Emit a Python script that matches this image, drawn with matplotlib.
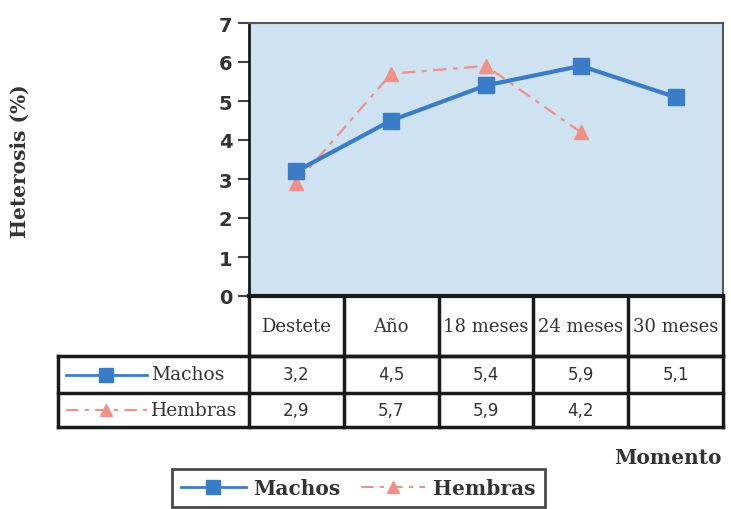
import matplotlib.pyplot as plt
from matplotlib.lines import Line2D
from matplotlib.transforms import blended_transform_factory

# heterosis por momento de evaluación
momentos = ["Destete", "Año", "18 meses", "24 meses", "30 meses"]
machos = [3.2, 4.5, 5.4, 5.9, 5.1]
hembras = [2.9, 5.7, 5.9, 4.2]
machos_txt = ["3,2", "4,5", "5,4", "5,9", "5,1"]
hembras_txt = ["2,9", "5,7", "5,9", "4,2", ""]

azul = "#3a7cc8"
rosa = "#f09088"
borde = "#1a1a1a"
serif = "DejaVu Serif"

fig = plt.figure(figsize=(7.31, 5.10), dpi=100)
ax = fig.add_axes([249 / 731, 1 - 297 / 510, 474 / 731, 273 / 510])
ax.set_facecolor("#cfe2f1")

x = list(range(len(momentos)))
ax.plot(x[:len(hembras)], hembras, color=rosa, lw=1.6, ls=(0, (6, 3, 2, 3)),
        marker="^", ms=10, mec=rosa, mfc=rosa, zorder=2)
ax.plot(x, machos, color=azul, lw=3, marker="s", ms=11, mec=azul, mfc=azul, zorder=3)

ax.set_xlim(-0.5, 4.5)
ax.set_ylim(0, 7)
ax.set_yticks(range(8))
ax.set_xticks([])
ax.tick_params(axis="y", length=8, width=1.5, color="#444", direction="out", pad=4)
for t in ax.get_yticklabels():
    t.set_fontsize(14)
    t.set_fontweight("bold")
    t.set_color("#333333")
for s in ["top", "right"]:
    ax.spines[s].set_color("#555555")
    ax.spines[s].set_linewidth(1.5)
ax.spines["left"].set_color(borde)
ax.spines["left"].set_linewidth(2)
ax.spines["bottom"].set_color(borde)
ax.spines["bottom"].set_linewidth(3)

fig.text(20 / 731, 1 - 161 / 510, "Heterosis (%)", rotation=90, ha="center", va="center",
         family=serif, fontweight="bold", fontsize=14.5, color="#333333")

# tabla de datos bajo el eje x
tr = blended_transform_factory(ax.transData, fig.transFigure)
y_top = 1 - 297 / 510
y_h = 1 - 357 / 510
y_m = 1 - 394 / 510
y_b = 1 - 428 / 510
x_left = -2.52


def linea(xs, ys, lw=2.5):
    fig.add_artist(Line2D(xs, ys, transform=tr, color=borde, lw=lw, clip_on=False))


linea([-0.5, 4.5], [y_h, y_h])
linea([x_left, 4.5], [y_h, y_h])
linea([x_left, 4.5], [y_m, y_m])
linea([x_left, 4.5], [y_b, y_b])
linea([x_left, x_left], [y_h, y_b])
for b in [-0.5, 0.5, 1.5, 2.5, 3.5, 4.5]:
    linea([b, b], [y_top, y_b])

for i, m in enumerate(momentos):
    fig.text(i, (y_top + y_h) / 2, m, transform=tr, ha="center", va="center",
             family=serif, fontsize=13, color="#333333")
    fig.text(i, (y_h + y_m) / 2, machos_txt[i], transform=tr, ha="center", va="center",
             fontsize=12, color="#333333")
    fig.text(i, (y_m + y_b) / 2, hembras_txt[i], transform=tr, ha="center", va="center",
             fontsize=12, color="#333333")

# leyenda dentro de la tabla
for yy, serie, etiqueta in [((y_h + y_m) / 2, "m", "Machos"), ((y_m + y_b) / 2, "h", "Hembras")]:
    if serie == "m":
        fig.add_artist(Line2D([-2.43, -1.58], [yy, yy], transform=tr, color=azul, lw=2))
        fig.add_artist(Line2D([-2.01], [yy], transform=tr, color=azul, marker="s", ms=10))
    else:
        fig.add_artist(Line2D([-2.43, -1.58], [yy, yy], transform=tr, color=rosa, lw=1.5,
                              ls=(0, (6, 3, 2, 3))))
        fig.add_artist(Line2D([-2.01], [yy], transform=tr, color=rosa, marker="^", ms=9))
    fig.text(-1.53, yy, etiqueta, transform=tr, ha="left", va="center",
             family=serif, fontsize=13.5, color="#333333")

fig.text(722 / 731, 1 - 458 / 510, "Momento", ha="right", va="center",
         family=serif, fontweight="bold", fontsize=14.5, color="#333333")

handles = [
    Line2D([], [], color=azul, lw=2, marker="s", ms=10, label="Machos"),
    Line2D([], [], color=rosa, lw=1.5, ls=(0, (6, 3, 2, 3)), marker="^", ms=9, label="Hembras"),
]
leg = fig.legend(handles=handles, loc="upper left", bbox_to_anchor=(172 / 731, 1 - 470 / 510),
                 ncol=2, frameon=True, fancybox=False, handlelength=3.2, columnspacing=1.0,
                 prop={"family": serif, "weight": "bold", "size": 14.5}, borderaxespad=0,
                 borderpad=0.45, handletextpad=0.4)
leg.get_frame().set_edgecolor(borde)
leg.get_frame().set_linewidth(2)
for t in leg.get_texts():
    t.set_color("#333333")

fig.savefig("out.png", dpi=100)
